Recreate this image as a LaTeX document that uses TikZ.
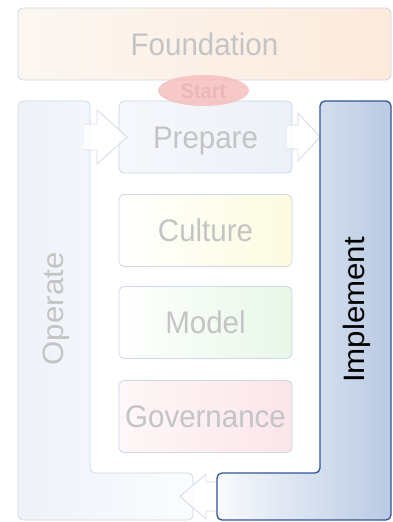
\documentclass[tikz,border=0pt]{standalone}
\usepackage{fontspec}
\usepackage{graphicx}
\setmainfont{Liberation Sans}
\usetikzlibrary{shapes.geometric}

\definecolor{fadetext}{HTML}{C4C4C4}
\definecolor{panelline}{HTML}{CDD7E8}
\definecolor{arrowline}{HTML}{D3DAE6}
\definecolor{implline}{HTML}{2F5597}
\definecolor{implleft}{HTML}{F8FAFD}
\definecolor{implright}{HTML}{BACAE3}
\definecolor{foundleft}{HTML}{FCF7F2}
\definecolor{foundright}{HTML}{FCEADC}
\definecolor{opleft}{HTML}{EEF2F9}
\definecolor{opright}{HTML}{FBFCFE}
\definecolor{prepleft}{HTML}{F6F8FC}
\definecolor{prepright}{HTML}{ECF0F8}
\definecolor{cultright}{HTML}{FCFBDF}
\definecolor{modelright}{HTML}{E8F7E8}
\definecolor{govleft}{HTML}{FEF7F8}
\definecolor{govright}{HTML}{FBE5EA}
\definecolor{startfill}{HTML}{F6BEBE}
\definecolor{starttext}{HTML}{ECB6B6}

% horizontal and rotated captions, slightly stretched vertically
\newcommand{\hcap}[1]{\scalebox{1}[1.06]{#1}}
\newcommand{\vcap}[1]{\scalebox{1.06}[1]{#1}}

\begin{document}
\begin{tikzpicture}[x=1pt,y=-1pt,
  panel/.style={draw=panelline, line width=0.8pt, rounded corners=5pt},
  stage/.style={panel, minimum width=173pt, minimum height=72pt, inner sep=0pt},
  caption/.style={text=fadetext, font=\fontsize{29.5}{30}\selectfont,
    inner sep=0pt, text height=22.3pt, text depth=0pt},
  blockarrow/.style={draw=arrowline, line width=0.8pt, line join=miter},
  blockfill/.style={fill=white, fill opacity=0.85},
]
\useasboundingbox (0,0) rectangle (393,522);

% foundation band
\node[panel, left color=foundleft, right color=foundright,
  minimum width=373pt, minimum height=72pt, inner sep=0pt] (foundation) at (204.5,44) {};
\node[caption] (foundationtext) at (foundation.center) {\hcap{Foundation}};

% operate (L-shaped panel on the left)
\path[panel, left color=opleft, right color=opright]
  (18,101) -- (90,101) -- (90,473) -- (193,473) -- (193,520) -- (18,520) -- cycle;

% stages in the middle column
\node[stage, left color=prepleft, right color=prepright] (prepare) at (205.5,137) {};
\node[stage, left color=white, right color=cultright] (culture) at (205.5,230.5) {};
\node[stage, left color=white, right color=modelright] (model) at (205.5,322.5) {};
\node[stage, left color=govleft, right color=govright] (governance) at (205.5,416.5) {};

% block arrows
\fill[blockfill] (84,124) -- (97,124) -- (97,110) -- (127,137) -- (97,164) -- (97,150) -- (84,150) -- cycle;
\draw[blockarrow] (84,124) -- (97,124) -- (97,110) -- (127,137) -- (97,164) -- (97,150) -- (84,150);

\fill[blockfill] (287,125) -- (298,125) -- (298,113) -- (320,137) -- (298,161) -- (298,149) -- (287,149) -- cycle;
\draw[blockarrow] (287,125) -- (298,125) -- (298,113) -- (320,137) -- (298,161) -- (298,149) -- (287,149);

\fill[blockfill] (220,482) -- (206,482) -- (206,474) -- (180,496.5) -- (206,519) -- (206,511) -- (220,511) -- cycle;
\draw[blockarrow] (220,482) -- (206,482) -- (206,474) -- (180,496.5) -- (206,519) -- (206,511) -- (220,511);

% implement (highlighted L-shaped panel on the right)
\path[draw=implline, line width=1.3pt, rounded corners=5pt,
  left color=implleft, right color=implright]
  (320,101) -- (391,101) -- (391,520) -- (217,520) -- (217,473) -- (320,473) -- cycle;

% start marker
\node[ellipse, fill=startfill, fill opacity=0.85, minimum width=91pt, minimum height=31pt,
  inner sep=0pt] (start) at (203.5,90.5) {};
\node[text=starttext, font=\bfseries\fontsize{20}{20}\selectfont, inner sep=0pt,
  text height=15pt, text depth=0pt] (starttext) at (start.center) {\hcap{Start}};

% captions
\node[caption] (preparetext) at (prepare.center) {\hcap{Prepare}};
\node[caption] (culturetext) at (culture.center) {\hcap{Culture}};
\node[caption] (modeltext) at (model.center) {\hcap{Model}};
\node[caption] (governancetext) at (governance.center) {\hcap{Governance}};
\node[caption, rotate=90] (operate) at (52.5,309) {\vcap{Operate}};
\node[caption, rotate=90, text=black] (implement) at (353,310) {\vcap{Implement}};
\end{tikzpicture}
\end{document}
